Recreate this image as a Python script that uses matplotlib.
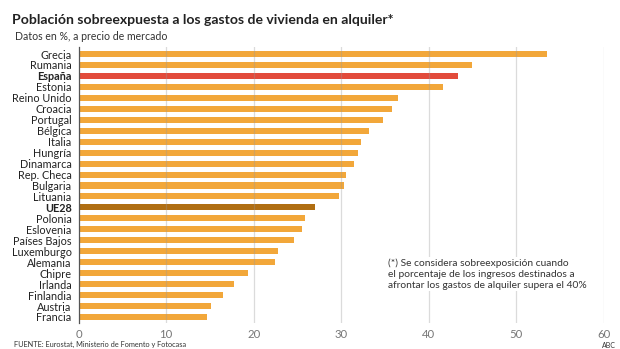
import numpy as np
import matplotlib.pyplot as plt

plt.rcParams['font.family'] = ['Lato', 'DejaVu Sans']

# Data
paises = ["Grecia", "Rumania", "España", "Estonia", "Reino Unido", "Croacia",
          "Portugal", "Bélgica", "Italia", "Hungría", "Dinamarca", "Rep. Checa",
          "Bulgaria", "Lituania", "UE28", "Polonia", "Eslovenia", "Países Bajos",
          "Luxemburgo", "Alemania", "Chipre", "Irlanda", "Finlandia", "Austria",
          "Francia"]
valores = [53.5, 44.9, 43.3, 41.6, 36.5, 35.8, 34.8, 33.2, 32.2, 31.9, 31.4, 30.5,
           30.3, 29.8, 27.0, 25.9, 25.5, 24.6, 22.8, 22.4, 19.4, 17.8, 16.5, 15.1,
           14.7]
xticks = [0, 10, 20, 30, 40, 50, 60]

naranja = "#F2A73A"
rojo = "#E24B3B"
marron = "#B06E12"

colores = []
for p in paises:
    if p == "España":
        colores.append(rojo)
    elif p == "UE28":
        colores.append(marron)
    else:
        colores.append(naranja)

fig = plt.figure(figsize=(6.2, 3.49), dpi=100)
ax = fig.add_axes([78.5 / 620, 1 - 323 / 349, (604 - 78.5) / 620, 276 / 349])

y = np.arange(len(paises))
ax.barh(y, valores, height=0.55, color=colores, zorder=1)

ax.set_xlim(0, 60)
ax.set_ylim(24.55, -0.64)

for xv in xticks[1:]:
    ax.axvline(xv, color="#999999", alpha=0.35, lw=0.9, zorder=2)

for s in ["top", "right", "bottom"]:
    ax.spines[s].set_visible(False)
ax.spines["left"].set_color("#555555")
ax.spines["left"].set_linewidth(0.9)
ax.spines["left"].set_zorder(3)

ax.set_yticks(y)
ax.set_yticklabels(paises, fontsize=7.8, color="#222222")
for lbl in ax.get_yticklabels():
    if lbl.get_text() in ("España", "UE28"):
        lbl.set_fontweight("bold")
ax.tick_params(axis="y", length=0, pad=5)

ax.set_xticks(xticks)
ax.set_xticklabels([str(v) for v in xticks], fontsize=8.2, color="#777777")
ax.tick_params(axis="x", length=0, pad=4)

fig.text(12 / 620, 1 - 20 / 349, "Población sobreexpuesta a los gastos de vivienda en alquiler*",
         fontsize=10.1, fontweight="bold", color="#222222", va="center", ha="left")
fig.text(15 / 620, 1 - 37 / 349, "Datos en %, a precio de mercado",
         fontsize=7.6, color="#333333", va="center", ha="left")
fig.text(14 / 620, 1 - 344 / 349, "FUENTE: Eurostat, Ministerio de Fomento y Fotocasa",
         fontsize=5.3, color="#333333", va="center", ha="left")
fig.text(616 / 620, 1 - 345 / 349, "ABC", fontsize=5, color="#333333",
         va="center", ha="right")

nota = ("(*) Se considera sobreexposición cuando\n"
        "el porcentaje de los ingresos destinados a\n"
        "afrontar los gastos de alquiler supera el 40%")
fig.text(388 / 620, 1 - 258 / 349, nota, fontsize=7.4, color="#333333",
         va="top", ha="left", linespacing=1.32,
         bbox=dict(facecolor="white", edgecolor="none", pad=1))

fig.savefig("out.png", dpi=100)
